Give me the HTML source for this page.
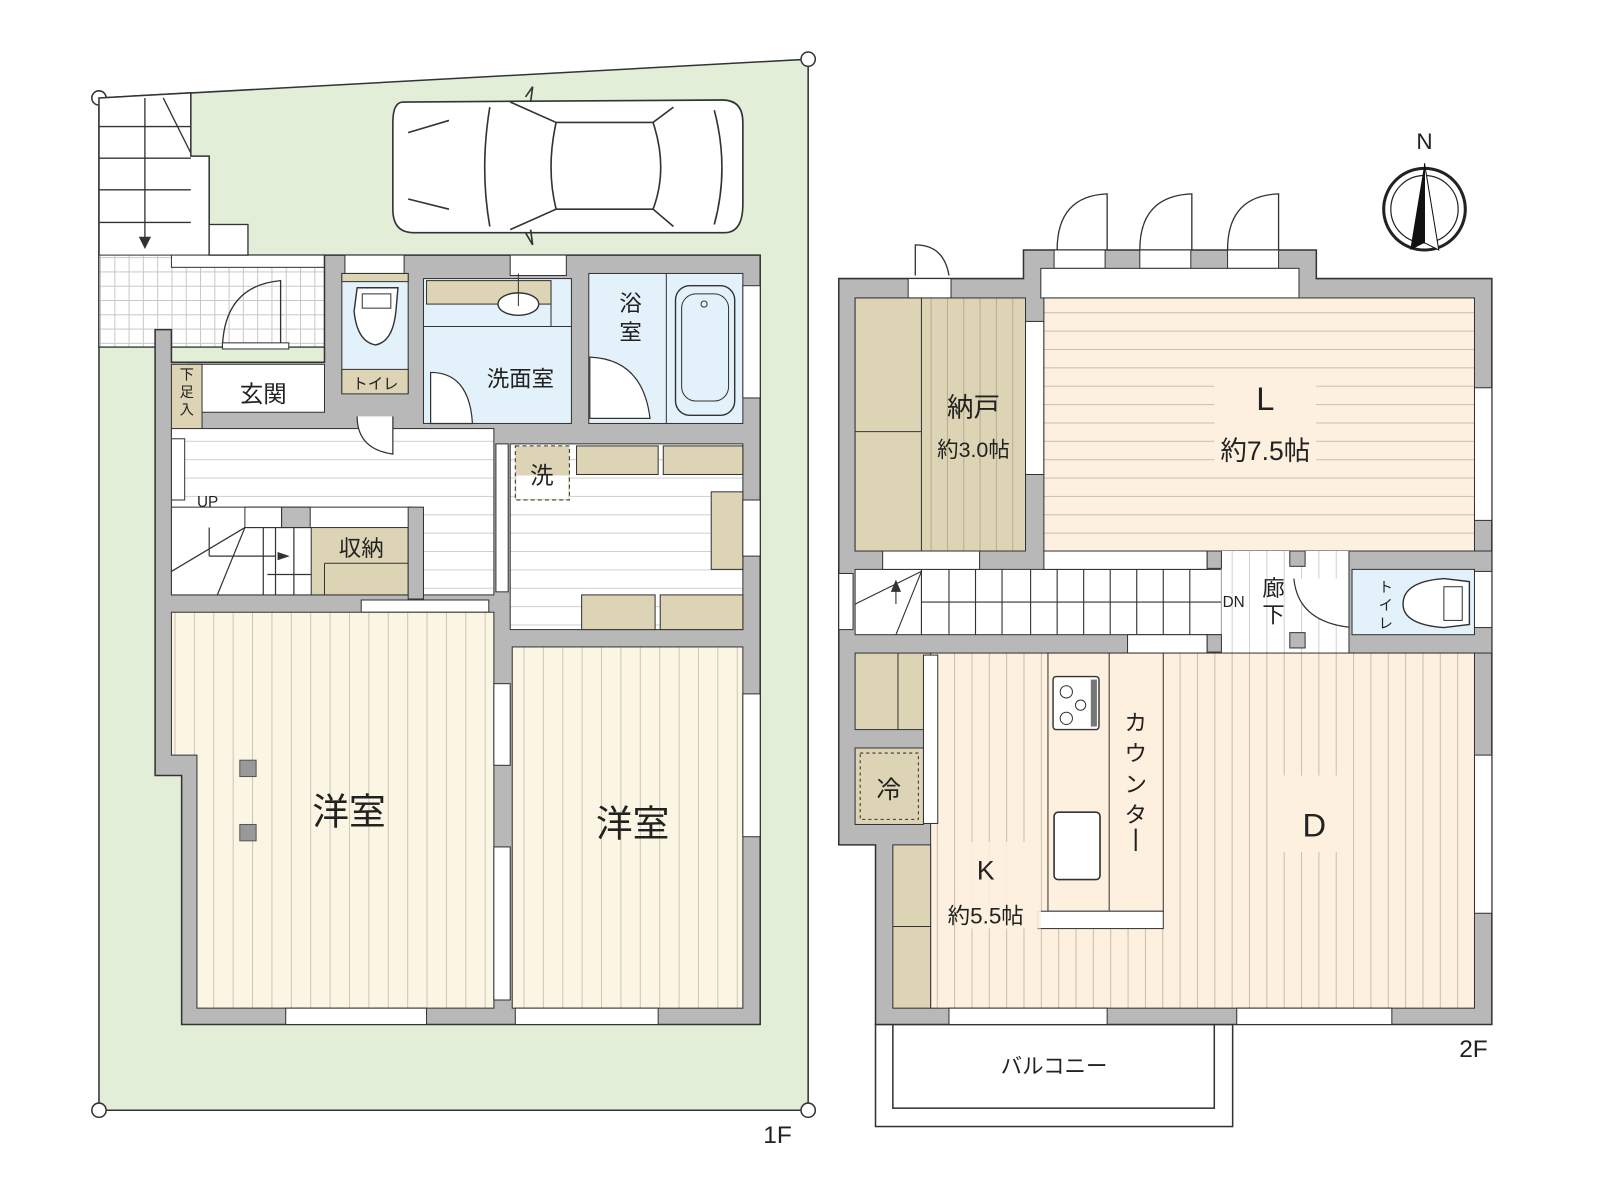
<!DOCTYPE html>
<html><head><meta charset="utf-8"><style>
html,body{margin:0;padding:0;background:#fff;}
svg{display:block}
text{font-family:"Liberation Sans","Noto Sans CJK JP",sans-serif;fill:#222}
</style></head><body>
<svg width="1600" height="1200" viewBox="0 0 1568 1176" xmlns="http://www.w3.org/2000/svg">
<defs>
<pattern id="vl" width="19" height="10" patternUnits="userSpaceOnUse"><rect width="19" height="10" fill="#fbf5e4"/><line x1="0.5" y1="0" x2="0.5" y2="10" stroke="#cfc6b4" stroke-width="1"/></pattern>
<pattern id="vl2" width="17" height="10" patternUnits="userSpaceOnUse"><rect width="17" height="10" fill="#fdf0de"/><line x1="0.5" y1="0" x2="0.5" y2="10" stroke="#c9bfae" stroke-width="1"/></pattern>
<pattern id="hl" width="10" height="18" patternUnits="userSpaceOnUse"><rect width="10" height="18" fill="#fdf0de"/><line x1="0" y1="0.5" x2="10" y2="0.5" stroke="#c9bfae" stroke-width="1"/></pattern>
<pattern id="hw" width="10" height="18" patternUnits="userSpaceOnUse"><rect width="10" height="18" fill="#fff"/><line x1="0" y1="0.5" x2="10" y2="0.5" stroke="#d0d0d0" stroke-width="1"/></pattern>
<pattern id="vw" width="17" height="10" patternUnits="userSpaceOnUse"><rect width="17" height="10" fill="#fff"/><line x1="0.5" y1="0" x2="0.5" y2="10" stroke="#d0d0d0" stroke-width="1"/></pattern>
<pattern id="vt" width="16" height="10" patternUnits="userSpaceOnUse"><rect width="16" height="10" fill="#ddd4b5"/><line x1="0.5" y1="0" x2="0.5" y2="10" stroke="#b8ad8e" stroke-width="1"/></pattern>
<pattern id="tile" width="14" height="14" patternUnits="userSpaceOnUse"><rect width="14" height="14" fill="#fff"/><path d="M0 0.5H14M0.5 0V14" stroke="#c8c8c8" stroke-width="1"/></pattern>
</defs>

<!-- LOT -->
<polygon points="97,96 792,58 792,1088 97,1088" fill="#e3eed9" stroke="#333" stroke-width="1.5"/>
<circle cx="97" cy="96" r="7" fill="#fff" stroke="#333" stroke-width="1.5"/>
<circle cx="792" cy="58" r="7" fill="#fff" stroke="#333" stroke-width="1.5"/>
<circle cx="97" cy="1088" r="7" fill="#fff" stroke="#333" stroke-width="1.5"/>
<circle cx="792" cy="1088" r="7" fill="#fff" stroke="#333" stroke-width="1.5"/>
<!-- outside stairs -->
<polygon points="97,96 187,91 187,153 205,153 205,250 318,250 318,340 97,340" fill="#fff" stroke="#333" stroke-width="1.5"/>
<rect x="97" y="250" width="221" height="90" fill="url(#tile)" stroke="#333" stroke-width="1"/>
<rect x="168" y="250" width="150" height="12" fill="#fff" stroke="#333" stroke-width="1"/>
<g stroke="#333" stroke-width="1.3">
<line x1="97" y1="124" x2="187" y2="124"/><line x1="97" y1="155" x2="187" y2="155"/><line x1="97" y1="186" x2="187" y2="186"/><line x1="97" y1="218" x2="187" y2="218"/>
<line x1="142" y1="96" x2="142" y2="235"/><line x1="160" y1="96" x2="187" y2="150"/>
</g>
<path d="M136 232 L142 244 L148 232 Z" fill="#333"/>
<rect x="205" y="220" width="38" height="30" fill="#fff" stroke="#333" stroke-width="1.3"/>
<!-- car -->
<g fill="#fff" stroke="#333" stroke-width="1.6">
<path d="M395 100 Q385 100 385 120 L385 205 Q385 228 405 228 L710 228 Q728 228 728 200 L728 120 Q728 98 708 98 Z"/>
<path d="M480 105 Q470 165 480 222 M500 100 L545 120 L640 120 L660 105 M500 225 L545 205 L640 205 L660 222 M545 120 Q535 165 545 205 M640 120 Q655 165 640 205 M700 108 Q715 165 700 220 M400 130 L440 118 M400 195 L440 205" fill="none"/>
<path d="M515 95 L522 85 L520 100 M515 228 L522 240 L520 225" fill="none"/>
</g>
<!-- 1F walls -->
<polygon points="152,323 168,323 168,355 318,355 318,250 745,250 745,1004 178,1004 178,760 152,760" fill="#b8b8b8" stroke="#333" stroke-width="1.5"/>
<rect x="338" y="250" width="58" height="18" fill="#fff" stroke="#333"/><rect x="500" y="250" width="55" height="20" fill="#fff" stroke="#333"/>
<!-- 玄関 -->
<rect x="183" y="357" width="135" height="47" fill="#fff" stroke="#333"/>
<rect x="168" y="357" width="30" height="71" fill="#ddd4b5" stroke="#333"/>
<text x="183" y="372" font-size="14" text-anchor="middle">下</text><text x="183" y="389" font-size="14" text-anchor="middle">足</text><text x="183" y="406" font-size="14" text-anchor="middle">入</text>
<text x="258" y="394" font-size="23" text-anchor="middle">玄関</text>
<path d="M218 340 Q220 280 275 275 L275 340" fill="none" stroke="#333" stroke-width="1.3"/>
<rect x="218" y="336" width="65" height="6" fill="#fff" stroke="#333"/>
<!-- hall -->
<rect x="168" y="420" width="316" height="163" fill="url(#hw)" stroke="#333"/>
<rect x="168" y="430" width="13" height="60" fill="#fff" stroke="#333"/>
<text x="193" y="497" font-size="15">UP</text>
<rect x="168" y="497" width="235" height="86" fill="#fff" stroke="#333"/>
<rect x="240" y="497" width="36" height="20" fill="#fff" stroke="#333"/><rect x="276" y="497" width="28" height="20" fill="#bbb" stroke="#333"/>
<g stroke="#333" stroke-width="1.2" fill="none">
<line x1="240" y1="517" x2="305" y2="517"/><line x1="258" y1="517" x2="258" y2="583"/><line x1="270" y1="517" x2="270" y2="583"/><line x1="288" y1="517" x2="288" y2="583"/>
<line x1="205" y1="517" x2="205" y2="545"/><line x1="205" y1="545" x2="270" y2="545"/><line x1="240" y1="517" x2="168" y2="560"/><line x1="240" y1="517" x2="213" y2="583"/><line x1="262" y1="563" x2="305" y2="563"/>
</g>
<path d="M272 541 L284 545 L272 549Z" fill="#333"/>
<rect x="305" y="517" width="95" height="66" fill="#ddd4b5" stroke="#333"/>
<line x1="318" y1="552" x2="400" y2="552" stroke="#333"/><line x1="318" y1="552" x2="318" y2="583" stroke="#333"/>
<text x="354" y="545" font-size="22" text-anchor="middle">収納</text>
<rect x="400" y="497" width="15" height="90" fill="#b8b8b8" stroke="#333"/>
<!-- toilet 1F -->
<rect x="335" y="268" width="65" height="117" fill="#e3f1fa" stroke="#333"/>
<rect x="335" y="268" width="65" height="8" fill="#ddd4b5" stroke="#333"/>
<path d="M350 282 L390 282 L388 305 Q385 335 368 338 Q350 335 347 305 Z" fill="#fff" stroke="#333" stroke-width="1.4"/>
<rect x="355" y="288" width="28" height="14" fill="#fff" stroke="#333"/>
<rect x="335" y="362" width="65" height="24" fill="#ddd4b5" stroke="#333"/>
<text x="368" y="381" font-size="15" text-anchor="middle">トイレ</text>
<path d="M350 408 Q350 440 385 445 L385 408" fill="#fff" stroke="#333" stroke-width="1.2"/>
<!-- 洗面室 -->
<rect x="415" y="273" width="145" height="142" fill="#e3f1fa" stroke="#333"/>
<rect x="418" y="275" width="122" height="23" fill="#ddd4b5" stroke="#333"/>
<line x1="540" y1="275" x2="540" y2="320" stroke="#333"/><line x1="415" y1="320" x2="560" y2="320" stroke="#333"/>
<ellipse cx="508" cy="298" rx="20" ry="11" fill="#fff" stroke="#333" stroke-width="1.4"/>
<line x1="508" y1="268" x2="508" y2="300" stroke="#333"/>
<text x="510" y="379" font-size="22" text-anchor="middle">洗面室</text>
<path d="M422 365 Q460 365 463 415 L422 415 Z" fill="#fff" stroke="#333" stroke-width="1.2"/>
<!-- 浴室 -->
<rect x="577" y="268" width="151" height="147" fill="#e3f1fa" stroke="#333"/>
<line x1="653" y1="268" x2="653" y2="415" stroke="#333"/>
<rect x="662" y="280" width="58" height="127" rx="14" fill="#e3f1fa" stroke="#333" stroke-width="1.4"/>
<rect x="668" y="288" width="46" height="105" rx="14" fill="none" stroke="#333"/>
<circle cx="690" cy="298" r="3" fill="none" stroke="#333"/>
<text x="618" y="305" font-size="22" text-anchor="middle">浴</text><text x="618" y="333" font-size="22" text-anchor="middle">室</text>
<path d="M578 350 Q630 352 637 410 L578 410 Z" fill="#fff" stroke="#333" stroke-width="1.2"/>
<rect x="728" y="280" width="17" height="110" fill="#fff" stroke="#333"/>
<!-- right hall 1F -->
<rect x="500" y="435" width="228" height="182" fill="url(#hw)" stroke="#333"/>
<rect x="565" y="437" width="80" height="28" fill="#ddd4b5" stroke="#333"/><rect x="650" y="437" width="78" height="28" fill="#ddd4b5" stroke="#333"/>
<rect x="697" y="482" width="31" height="76" fill="#ddd4b5" stroke="#333"/>
<rect x="570" y="583" width="72" height="34" fill="#ddd4b5" stroke="#333"/><rect x="647" y="583" width="81" height="34" fill="#ddd4b5" stroke="#333"/>
<rect x="505" y="437" width="53" height="53" fill="#ddd4b5" stroke="#333" stroke-dasharray="4,3"/>
<rect x="506" y="466" width="51" height="23" fill="#fff"/>
<text x="531" y="474" font-size="23" text-anchor="middle">洗</text>
<rect x="728" y="490" width="17" height="55" fill="#fff" stroke="#333"/>
<rect x="486" y="435" width="12" height="145" fill="#fff" stroke="#333"/>
<rect x="354" y="588" width="125" height="12" fill="#fff" stroke="#333"/>
<!-- 洋室 -->
<polygon points="168,600 484,600 484,988 193,988 193,740 168,740" fill="url(#vl)" stroke="#333"/>
<rect x="502" y="634" width="226" height="354" fill="url(#vl)" stroke="#333"/>
<rect x="235" y="745" width="16" height="16" fill="#999" stroke="#555"/><rect x="235" y="808" width="16" height="16" fill="#999" stroke="#555"/>
<text x="342" y="808" font-size="36" text-anchor="middle">洋室</text>
<text x="620" y="820" font-size="36" text-anchor="middle">洋室</text>
<rect x="280" y="988" width="138" height="16" fill="#fff" stroke="#333"/>
<rect x="505" y="988" width="140" height="16" fill="#fff" stroke="#333"/>
<rect x="484" y="670" width="16" height="80" fill="#fff" stroke="#333"/><rect x="484" y="830" width="16" height="150" fill="#fff" stroke="#333"/>
<rect x="728" y="680" width="17" height="140" fill="#fff" stroke="#333"/>
<text x="762" y="1120" font-size="24" text-anchor="middle">1F</text>

<!-- 2F -->
<rect x="858" y="1004" width="350" height="100" fill="#fff" stroke="#333" stroke-width="1.5"/>
<rect x="875" y="1004" width="315" height="82" fill="#fff" stroke="#333" stroke-width="1.5"/>
<text x="1033" y="1052" font-size="21" text-anchor="middle">バルコニー</text>
<polygon points="822,273 1003,273 1003,245 1290,245 1290,273 1462,273 1462,1004 858,1004 858,828 822,828" fill="#b8b8b8" stroke="#333" stroke-width="1.5"/>
<g fill="none" stroke="#333" stroke-width="1.3">
<path d="M1036 245 Q1036 192 1085 190 L1085 245"/><path d="M1117 245 Q1117 192 1168 190 L1168 245"/><path d="M1203 245 Q1203 192 1253 190 L1253 245"/>
<path d="M897 270 L897 240 Q925 240 930 270"/>
</g>
<rect x="1033" y="245" width="50" height="18" fill="#fff" stroke="#333"/><rect x="1117" y="245" width="50" height="18" fill="#fff" stroke="#333"/><rect x="1203" y="245" width="50" height="18" fill="#fff" stroke="#333"/>
<rect x="890" y="273" width="42" height="19" fill="#fff" stroke="#333"/>
<rect x="1020" y="263" width="253" height="29" fill="#fff" stroke="#333"/>
<!-- 納戸 -->
<rect x="838" y="292" width="167" height="248" fill="url(#vt)" stroke="#333"/>
<rect x="838" y="292" width="65" height="248" fill="#ddd4b5" stroke="#333"/><line x1="838" y1="423" x2="903" y2="423" stroke="#333"/>
<text x="954" y="408" font-size="26" text-anchor="middle">納戸</text>
<text x="954" y="448" font-size="21" text-anchor="middle">約3.0帖</text>
<rect x="1005" y="315" width="18" height="150" fill="#fff" stroke="#333"/>
<!-- L -->
<rect x="1023" y="292" width="422" height="248" fill="url(#hl)" stroke="#333"/>
<rect x="1190" y="370" width="100" height="90" fill="#fdf0de"/>
<text x="1240" y="402" font-size="32" text-anchor="middle">L</text>
<text x="1240" y="451" font-size="26" text-anchor="middle">約7.5帖</text>
<rect x="1445" y="380" width="17" height="130" fill="#fff" stroke="#333"/>
<!-- stairs 2F -->
<rect x="838" y="558" width="359" height="64" fill="#fff" stroke="#333"/>
<g stroke="#333" stroke-width="1.1">
<line x1="903" y1="590" x2="1197" y2="590"/>
<line x1="903" y1="558" x2="903" y2="622"/><line x1="930" y1="558" x2="930" y2="622"/><line x1="956" y1="558" x2="956" y2="622"/><line x1="982" y1="558" x2="982" y2="622"/><line x1="1010" y1="558" x2="1010" y2="622"/><line x1="1036" y1="558" x2="1036" y2="622"/><line x1="1062" y1="558" x2="1062" y2="622"/><line x1="1088" y1="558" x2="1088" y2="622"/><line x1="1114" y1="558" x2="1114" y2="622"/><line x1="1140" y1="558" x2="1140" y2="622"/><line x1="1166" y1="558" x2="1166" y2="622"/>
<line x1="903" y1="560" x2="838" y2="592"/><line x1="903" y1="560" x2="878" y2="622"/><line x1="878" y1="570" x2="878" y2="592"/>
</g>
<path d="M873 580 L878 568 L883 580Z" fill="#333"/>
<rect x="822" y="562" width="14" height="55" fill="#fff" stroke="#333"/>
<rect x="865" y="540" width="95" height="18" fill="#fff" stroke="#333"/>
<rect x="1023" y="540" width="160" height="18" fill="#fff" stroke="#333"/>
<rect x="1105" y="622" width="78" height="18" fill="#fff" stroke="#333"/>
<!-- 廊下 -->
<rect x="1197" y="540" width="125" height="100" fill="url(#vw)"/>
<rect x="1183" y="540" width="14" height="17" fill="#b8b8b8" stroke="#333"/><rect x="1183" y="622" width="14" height="17" fill="#b8b8b8" stroke="#333"/>
<rect x="1264" y="540" width="15" height="15" fill="#b8b8b8" stroke="#333"/><rect x="1264" y="620" width="15" height="15" fill="#b8b8b8" stroke="#333"/>
<text x="1209" y="595" font-size="15" text-anchor="middle">DN</text>
<text x="1248" y="584" font-size="22" text-anchor="middle">廊</text><text x="1248" y="610" font-size="22" text-anchor="middle">下</text>
<path d="M1268 567 Q1272 610 1325 615 L1325 567" fill="#fff" stroke="#333" stroke-width="1.2"/>
<!-- toilet 2F -->
<rect x="1322" y="540" width="140" height="100" fill="#b8b8b8" stroke="#333"/>
<rect x="1325" y="558" width="120" height="64" fill="#e3f1fa" stroke="#333"/>
<path d="M1440 570 L1415 567 Q1375 570 1375 592 Q1375 612 1415 615 L1440 612 Z" fill="#fff" stroke="#333" stroke-width="1.4"/>
<rect x="1415" y="575" width="18" height="33" fill="#fff" stroke="#333"/>
<text x="1358" y="580" font-size="14" text-anchor="middle">ト</text>
<text x="1358" y="598" font-size="14" text-anchor="middle">イ</text>
<text x="1358" y="616" font-size="14" text-anchor="middle">レ</text>
<rect x="1445" y="560" width="17" height="55" fill="#fff" stroke="#333"/>
<!-- K/D -->
<rect x="912" y="640" width="533" height="348" fill="url(#vl2)" stroke="#333"/>
<rect x="1250" y="760" width="75" height="75" fill="#fdf0de"/>
<text x="1288" y="820" font-size="32" text-anchor="middle">D</text>
<rect x="1027" y="640" width="113" height="253" fill="#fdf0de" stroke="#333"/>
<line x1="1087" y1="640" x2="1087" y2="893" stroke="#333"/>
<rect x="1032" y="663" width="45" height="52" rx="3" fill="#fff" stroke="#333" stroke-width="1.4"/>
<circle cx="1045" cy="678" r="6" fill="none" stroke="#333"/><circle cx="1059" cy="691" r="5" fill="none" stroke="#333"/><circle cx="1045" cy="704" r="6" fill="none" stroke="#333"/>
<rect x="1069" y="666" width="6" height="46" fill="#777"/>
<rect x="1033" y="796" width="45" height="66" rx="4" fill="#fff" stroke="#333" stroke-width="1.6"/>
<rect x="1017" y="893" width="123" height="17" fill="#fff" stroke="#333"/>
<text x="1113" y="716" font-size="22" text-anchor="middle">カ</text>
<text x="1113" y="746" font-size="22" text-anchor="middle">ウ</text>
<text x="1113" y="776" font-size="22" text-anchor="middle">ン</text>
<text x="1113" y="806" font-size="22" text-anchor="middle">タ</text>
<line x1="1113" y1="812" x2="1113" y2="834" stroke="#222" stroke-width="2"/>
<rect x="940" y="825" width="80" height="85" fill="#fdf0de" opacity="0.9"/>
<text x="966" y="862" font-size="26" text-anchor="middle">K</text>
<text x="966" y="905" font-size="22" text-anchor="middle">約5.5帖</text>
<rect x="838" y="640" width="74" height="75" fill="#ddd4b5" stroke="#333"/><line x1="880" y1="640" x2="880" y2="715" stroke="#333"/>
<rect x="838" y="733" width="67" height="75" fill="#ddd4b5" stroke="#333"/>
<rect x="843" y="738" width="57" height="65" fill="none" stroke="#333" stroke-dasharray="3,3"/>
<text x="871" y="782" font-size="24" text-anchor="middle">冷</text>
<rect x="905" y="642" width="14" height="165" fill="#fff" stroke="#333"/>
<rect x="875" y="828" width="37" height="160" fill="#ddd4b5" stroke="#333"/><line x1="875" y1="908" x2="912" y2="908" stroke="#333"/>
<rect x="930" y="988" width="155" height="16" fill="#fff" stroke="#333"/><rect x="1212" y="988" width="152" height="16" fill="#fff" stroke="#333"/>
<rect x="1445" y="740" width="17" height="155" fill="#fff" stroke="#333"/>
<text x="1444" y="1036" font-size="24" text-anchor="middle">2F</text>
<!-- compass -->
<circle cx="1396" cy="205" r="40" fill="#fff" stroke="#222" stroke-width="3"/>
<circle cx="1396" cy="205" r="33" fill="none" stroke="#222" stroke-width="1.2"/>
<path d="M1396 160 L1382 245 L1396 238 Z" fill="#111"/><path d="M1396 160 L1410 245 L1396 238 Z" fill="#fff" stroke="#111"/>
<text x="1396" y="146" font-size="22" text-anchor="middle" font-family="Liberation Serif,serif">N</text>
</svg>
</body></html>
